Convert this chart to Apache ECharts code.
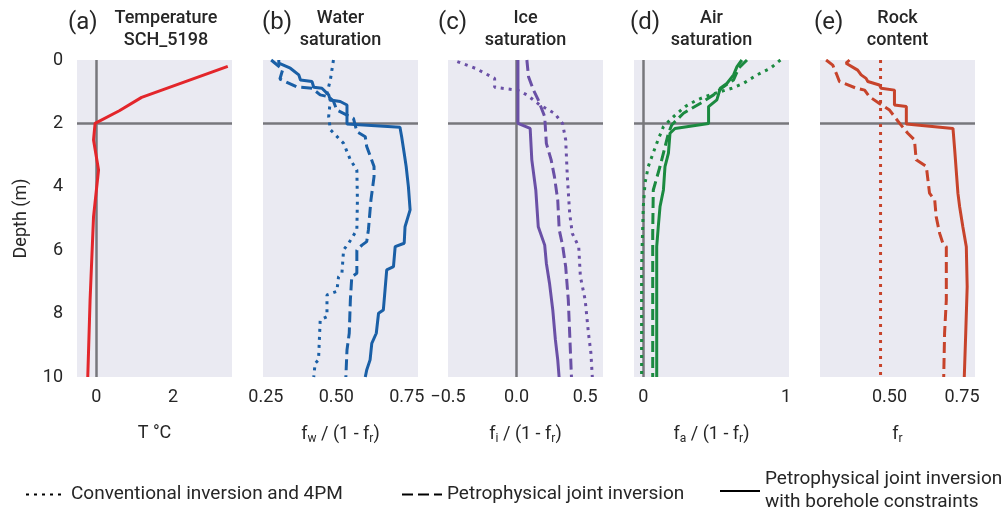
<!DOCTYPE html>
<html>
<head>
<meta charset="utf-8">
<script src="https://cdn.jsdelivr.net/npm/echarts@6/dist/echarts.min.js"></script>
<style>
  html, body { margin: 0; padding: 0; background: #fff; }
  #chart { width: 1008px; height: 509px; }
</style>
</head>
<body>
<div id="chart"></div>
<script>
// depth profiles, each point is [value, depth in m]
const depthTicks = [0, 2, 4, 6, 8, 10]

const temperature = [[3.42, 0.2], [1.18, 1.18], [0.6, 1.6], [-0.03, 2.0], [-0.07, 2.52], [0.06, 3.47], [-0.07, 4.94], [-0.16, 7.57], [-0.22, 10]]

const waterConv = [[0.49, 0], [0.479, 0.63], [0.467, 1.05], [0.479, 1.26], [0.473, 1.79], [0.479, 2.2], [0.526, 2.63], [0.55, 3.15], [0.573, 3.47], [0.575, 4.42], [0.573, 5.36], [0.544, 5.78], [0.526, 5.99], [0.52, 6.73], [0.508, 6.84], [0.502, 7.3], [0.467, 7.41], [0.467, 8.1], [0.443, 8.2], [0.437, 9.46], [0.425, 9.57], [0.42, 10]]
const waterJoint = [[0.269, 0], [0.31, 0.3], [0.3, 0.6], [0.36, 0.85], [0.414, 0.89], [0.443, 1.1], [0.473, 1.16], [0.49, 1.3], [0.502, 1.58], [0.561, 1.84], [0.573, 2.26], [0.603, 2.42], [0.608, 2.73], [0.634, 3.36], [0.634, 3.68], [0.623, 4.42], [0.614, 5.36], [0.608, 5.73], [0.591, 5.84], [0.573, 6.0], [0.573, 6.73], [0.555, 6.84], [0.55, 7.57], [0.546, 8.62], [0.538, 9.15], [0.534, 10]]
const waterBore = [[0.296, 0], [0.296, 0.1], [0.337, 0.26], [0.367, 0.47], [0.373, 0.63], [0.414, 0.68], [0.42, 0.86], [0.449, 0.89], [0.473, 1.1], [0.479, 1.26], [0.514, 1.31], [0.538, 1.42], [0.538, 2.02], [0.726, 2.12], [0.732, 2.42], [0.741, 2.94], [0.748, 3.36], [0.756, 4.0], [0.762, 4.73], [0.744, 5.26], [0.741, 5.78], [0.709, 5.89], [0.703, 6.52], [0.679, 6.62], [0.673, 7.26], [0.667, 7.89], [0.65, 7.99], [0.642, 8.62], [0.626, 8.94], [0.62, 9.46], [0.608, 9.78], [0.603, 10]]

const iceConv = [[-0.432, 0.05], [-0.302, 0.26], [-0.16, 0.58], [-0.16, 0.86], [0.005, 0.95], [0.075, 1.1], [0.17, 1.42], [0.276, 1.68], [0.335, 2.0], [0.358, 2.52], [0.37, 3.68], [0.387, 4.84], [0.406, 5.47], [0.453, 5.89], [0.465, 6.83], [0.5, 7.57], [0.524, 8.62], [0.542, 9.25], [0.552, 10]]
const iceJoint = [[0.075, 0], [0.087, 0.53], [0.123, 0.95], [0.158, 1.26], [0.205, 1.79], [0.217, 2.63], [0.252, 3.15], [0.276, 3.68], [0.3, 4.42], [0.311, 5.36], [0.335, 5.84], [0.358, 6.52], [0.377, 7.57], [0.387, 8.62], [0.4, 10]]
const iceBore = [[0.01, 0], [0.01, 2.0], [0.099, 2.16], [0.111, 3.15], [0.14, 4.1], [0.158, 5.26], [0.205, 5.84], [0.217, 6.41], [0.24, 7.04], [0.264, 7.89], [0.283, 8.83], [0.3, 9.46], [0.31, 10]]

const airConv = [[0.96, 0], [0.89, 0.26], [0.796, 0.47], [0.7, 0.74], [0.62, 0.89], [0.468, 1.1], [0.375, 1.26], [0.293, 1.47], [0.211, 1.79], [0.141, 2.1], [0.094, 2.63], [0.035, 3.36], [0.012, 3.89], [0.0, 4.63], [-0.012, 6.52], [-0.012, 10]]
const airJoint = [[0.726, 0], [0.667, 0.26], [0.632, 0.63], [0.562, 0.84], [0.492, 1.1], [0.398, 1.37], [0.281, 1.68], [0.199, 2.05], [0.176, 2.31], [0.141, 2.94], [0.117, 3.36], [0.07, 4.1], [0.066, 5.47], [0.066, 10]]
const airBore = [[0.69, 0], [0.656, 0.21], [0.632, 0.47], [0.585, 0.74], [0.539, 0.89], [0.515, 1.26], [0.457, 1.47], [0.457, 2.0], [0.222, 2.16], [0.187, 2.31], [0.176, 2.94], [0.152, 3.36], [0.141, 4.1], [0.117, 4.63], [0.105, 5.26], [0.094, 5.89], [0.094, 10]]

const rockConv = [[0.469, 0], [0.469, 10]]
const rockJoint = [[0.281, 0], [0.304, 0.16], [0.316, 0.42], [0.327, 0.68], [0.385, 0.89], [0.414, 0.95], [0.431, 1.16], [0.465, 1.37], [0.5, 1.58], [0.535, 2.0], [0.563, 2.31], [0.586, 2.52], [0.592, 3.15], [0.627, 3.36], [0.638, 4.2], [0.656, 4.42], [0.661, 4.94], [0.673, 5.47], [0.684, 5.78], [0.696, 5.89], [0.696, 7.57], [0.69, 8.62], [0.687, 10]]
const rockBore = [[0.362, 0], [0.35, 0.1], [0.39, 0.32], [0.402, 0.47], [0.419, 0.58], [0.425, 0.68], [0.465, 0.79], [0.471, 0.89], [0.517, 0.95], [0.517, 1.42], [0.558, 1.47], [0.558, 2.02], [0.719, 2.16], [0.725, 2.84], [0.736, 4.2], [0.742, 4.63], [0.753, 5.26], [0.765, 5.89], [0.768, 7.15], [0.763, 8.62], [0.758, 10]]

// x tick labels per panel
const tempTicks = [0, 2]
const waterTicks = [0.25, 0.5, 0.75]
const iceTicks = [-0.5, 0, 0.5]
const airTicks = [0, 1]
const rockTicks = [0.5, 0.75]

const legendNames = ['Conventional inversion and 4PM', 'Petrophysical joint inversion', 'Petrophysical joint inversion\nwith borehole constraints']

const FONT = 'Roboto, "DejaVu Sans", sans-serif'
const TXT = '#262626'
const GREY = '#77777c'
const dotted = [3, 5]
const dashed = [11, 5]

const panels = [
  { left: 77, min: -0.5, max: 3.53, ticks: tempTicks, fmt: v => String(v), name: 'T °C', refX: true },
  { left: 263, min: 0.24, max: 0.79, ticks: waterTicks, fmt: v => v.toFixed(2), name: '{t|f}{s|w}{t| / (1 - f}{s|r}{t|)}', refX: false },
  { left: 448, min: -0.5, max: 0.63, ticks: iceTicks, fmt: v => (v < 0 ? '\u2212' : '') + Math.abs(v).toFixed(1), name: '{t|f}{s|i}{t| / (1 - f}{s|r}{t|)}', refX: true },
  { left: 634, min: -0.065, max: 1.02, ticks: airTicks, fmt: v => String(v), name: '{t|f}{s|a}{t| / (1 - f}{s|r}{t|)}', refX: true },
  { left: 820, min: 0.26, max: 0.795, ticks: rockTicks, fmt: v => v.toFixed(2), name: '{t|f}{s|r}', refX: false }
]

const richName = {
  t: { fontSize: 18, fontFamily: FONT, color: TXT },
  s: { fontSize: 12, fontFamily: FONT, color: TXT, padding: [9, 0, 0, 0] }
}

const grid = panels.map(p => ({
  left: p.left, top: 60, width: 155, height: 317,
  show: true, backgroundColor: '#eaeaf2', borderWidth: 0
}))

const xAxis = panels.map((p, i) => ({
  type: 'value', gridIndex: i, min: p.min, max: p.max,
  axisLine: { show: false }, axisTick: { show: false }, splitLine: { show: false },
  axisLabel: {
    customValues: p.ticks, formatter: p.fmt, margin: 11,
    fontSize: 18, fontFamily: FONT, color: TXT, showMinLabel: true, showMaxLabel: true
  },
  name: p.name, nameLocation: 'middle', nameGap: 47,
  nameTextStyle: { fontSize: 18, fontFamily: FONT, color: TXT, rich: richName }
}))

const yAxis = panels.map((p, i) => ({
  type: 'value', gridIndex: i, min: 0, max: 10, interval: 2, inverse: true,
  axisLine: { show: false }, axisTick: { show: false }, splitLine: { show: false },
  axisLabel: { show: i === 0, margin: 14, fontSize: 18, fontFamily: FONT, color: TXT },
  name: i === 0 ? 'Depth (m)' : '', nameLocation: 'middle', nameGap: 47,
  nameTextStyle: { fontSize: 18, fontFamily: FONT, color: TXT }
}))

function refLines(p) {
  const data = [{ yAxis: 2 }]
  if (p.refX) data.push({ xAxis: 0 })
  return {
    silent: true, symbol: ['none', 'none'], z: 1, animation: false,
    label: { show: false },
    lineStyle: { color: GREY, width: 2.5, type: 'solid', opacity: 1 },
    data
  }
}

function line(data, color, dash, gi, z) {
  return {
    type: 'line', data, xAxisIndex: gi, yAxisIndex: gi,
    showSymbol: false, symbol: 'none', z, animation: false, silent: true,
    lineStyle: { color, width: 3, type: dash }
  }
}

const series = [
  Object.assign(line(temperature, '#e3262b', 'solid', 0, 3), { markLine: refLines(panels[0]) }),
  Object.assign(line(waterConv, '#1a5fa6', dotted, 1, 3), { markLine: refLines(panels[1]) }),
  line(waterJoint, '#1a5fa6', dashed, 1, 3),
  line(waterBore, '#1a5fa6', 'solid', 1, 3),
  Object.assign(line(iceConv, '#6a50a6', dotted, 2, 3), { markLine: refLines(panels[2]) }),
  line(iceJoint, '#6a50a6', dashed, 2, 3),
  line(iceBore, '#6a50a6', 'solid', 2, 3),
  Object.assign(line(airConv, '#1b8a40', dotted, 3, 3), { markLine: refLines(panels[3]) }),
  line(airJoint, '#1b8a40', dashed, 3, 3),
  line(airBore, '#1b8a40', 'solid', 3, 3),
  Object.assign(line(rockConv, '#c7432b', dotted, 4, 3), { markLine: refLines(panels[4]) }),
  line(rockJoint, '#c7432b', dashed, 4, 3),
  line(rockBore, '#c7432b', 'solid', 4, 3)
]

// black legend-only series
const legendDash = [dotted, dashed, 'solid']
legendNames.forEach((n, k) => {
  series.push({
    type: 'line', name: n, data: [], xAxisIndex: 0, yAxisIndex: 0,
    symbol: 'none', lineStyle: { color: '#000', width: 3, type: legendDash[k] },
    itemStyle: { color: '#000' }
  })
})

const legendLeft = [20, 396, 714]
const legend = legendNames.map((n, k) => ({
  data: [n],
  left: legendLeft[k], top: k === 2 ? 463 : 478,
  itemWidth: 40, itemHeight: 14,
  selectedMode: false,
  itemStyle: { opacity: 0 },
  textStyle: { fontSize: 19, fontFamily: FONT, color: TXT, lineHeight: 23 }
}))

const titleFont = '500 18px ' + FONT
const titles = [
  { x: 166, t: 'Temperature\nSCH_5198' },
  { x: 340.5, t: 'Water\nsaturation' },
  { x: 525.5, t: 'Ice\nsaturation' },
  { x: 711.5, t: 'Air\nsaturation' },
  { x: 897.5, t: 'Rock\ncontent' }
]
const letters = [{ x: 68, t: '(a)' }, { x: 262, t: '(b)' }, { x: 438, t: '(c)' }, { x: 630, t: '(d)' }, { x: 814, t: '(e)' }]

const graphic = titles.map(o => ({
  type: 'text', x: o.x, y: 7, silent: true,
  style: { text: o.t, font: titleFont, lineHeight: 22, fill: TXT, align: 'center', textAlign: 'center', verticalAlign: 'top', textVerticalAlign: 'top' }
})).concat(letters.map(o => ({
  type: 'text', x: o.x, y: 23, silent: true,
  style: { text: o.t, font: '400 24px ' + FONT, fill: TXT, align: 'left', textAlign: 'left', verticalAlign: 'middle', textVerticalAlign: 'middle' }
})))

const option = {
  animation: false,
  backgroundColor: '#fff',
  grid, xAxis, yAxis, series, legend, graphic
}

const myChart = echarts.init(document.getElementById('chart'), null, { renderer: 'canvas' })
myChart.setOption(option)
</script>
</body>
</html>
